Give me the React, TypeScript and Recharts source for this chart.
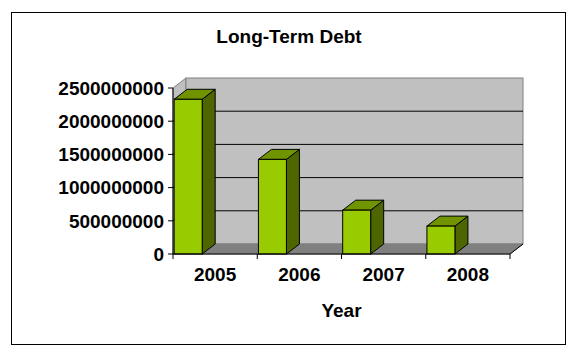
import { BarChart, Bar, XAxis, YAxis, ReferenceArea } from "recharts"

const YEARS = ["2005", "2006", "2007", "2008"]
const LONG_TERM_DEBT = [2330000000, 1425000000, 660000000, 420000000]
const Y_TICKS = [0, 500000000, 1000000000, 1500000000, 2000000000, 2500000000]

const data = YEARS.map((year, i) => ({ year, debt: LONG_TERM_DEBT[i] }))

const CHART_W = 572
const CHART_H = 352
const MARGIN = { top: 88, right: 62, left: 0, bottom: 28 }
const Y_AXIS_W = 173
const PLOT_W = CHART_W - MARGIN.right - MARGIN.left - Y_AXIS_W
const BAR_W = 28
// Excel draws the column at the left of its slot, not centred
const BAR_SHIFT = (PLOT_W / YEARS.length - BAR_W) / 2 - 1.3
const DEPTH_X = 13
const DEPTH_Y = 10
const Y_MAX = Y_TICKS[Y_TICKS.length - 1]

const COLORS = {
  front: "#99cc00",
  top: "#6f9400",
  side: "#4d6600",
  wall: "#c0c0c0",
  floor: "#808080",
  edge: "#808080",
}

const FONT = "'Liberation Sans', Arial, sans-serif"

function Walls(props: any) {
  const { x, y, width, height } = props
  const bottom = y + height
  const right = x + width
  const gridYs = Y_TICKS.slice(1, -1).map((v) => y + height * (1 - v / Y_MAX))
  const bounds = YEARS.map((_, i) => x + (i * width) / YEARS.length).concat(right)
  return (
    <g>
      <polygon
        points={`${x},${bottom} ${x},${y} ${x + DEPTH_X},${y - DEPTH_Y} ${x + DEPTH_X},${bottom - DEPTH_Y}`}
        fill={COLORS.wall}
        stroke={COLORS.edge}
      />
      <rect x={x + DEPTH_X} y={y - DEPTH_Y} width={width} height={height} fill={COLORS.wall} stroke={COLORS.edge} />
      {gridYs.map((gy) => (
        <g key={gy}>
          <line x1={x} y1={gy} x2={x + DEPTH_X} y2={gy - DEPTH_Y} stroke="#000" />
          <line x1={x + DEPTH_X} y1={gy - DEPTH_Y} x2={right + DEPTH_X} y2={gy - DEPTH_Y} stroke="#000" />
        </g>
      ))}
      <polygon
        points={`${x},${bottom} ${right},${bottom} ${right + DEPTH_X},${bottom - DEPTH_Y} ${x + DEPTH_X},${bottom - DEPTH_Y}`}
        fill={COLORS.floor}
        stroke={COLORS.floor}
      />
      <line x1={right} y1={bottom} x2={right + DEPTH_X} y2={bottom - DEPTH_Y} stroke="#000" />
      {bounds.map((bx) => (
        <line key={bx} x1={bx} y1={bottom} x2={bx} y2={bottom + 5} stroke="#000" />
      ))}
    </g>
  )
}

function Column3D(props: any) {
  const { x, y, width, height } = props
  if (!height) return null
  const fx = x - BAR_SHIFT
  const bottom = y + height
  return (
    <g stroke="#000" strokeWidth={1}>
      <polygon
        points={`${fx + width},${y} ${fx + width + DEPTH_X},${y - DEPTH_Y} ${fx + width + DEPTH_X},${bottom - DEPTH_Y} ${fx + width},${bottom}`}
        fill={COLORS.side}
      />
      <polygon
        points={`${fx},${y} ${fx + DEPTH_X},${y - DEPTH_Y} ${fx + width + DEPTH_X},${y - DEPTH_Y} ${fx + width},${y}`}
        fill={COLORS.top}
      />
      <rect x={fx} y={y} width={width} height={height} fill={COLORS.front} />
    </g>
  )
}

export default function App() {
  return (
    <div style={{ position: "absolute", left: 0, top: 0, width: CHART_W, height: CHART_H, fontFamily: FONT }}>
      <div
        style={{
          position: "absolute",
          left: 11,
          top: 12,
          width: 555,
          height: 333,
          border: "1.5px solid #000",
          boxSizing: "border-box",
        }}
      />
      <div
        style={{
          position: "absolute",
          left: 189,
          top: 27,
          width: 200,
          textAlign: "center",
          fontSize: 19,
          lineHeight: "19px",
          fontWeight: "bold",
        }}
      >
        Long-Term Debt
      </div>
      <div style={{ position: "absolute", left: 0, top: 0 }}>
        <BarChart width={CHART_W} height={CHART_H} data={data} margin={MARGIN}>
          <ReferenceArea y1={0} y2={Y_MAX} shape={(p: any) => <Walls {...p} />} />
          <XAxis
            dataKey="year"
            axisLine={{ stroke: "#000" }}
            tickLine={false}
            tickSize={0}
            tickMargin={14}
            height={70}
            tick={{ fontSize: 19, fontWeight: "bold", fill: "#000", fontFamily: FONT }}
            label={{
              value: "Year",
              position: "insideBottom",
              offset: 7,
              style: { fontSize: 19, fontWeight: "bold", fill: "#000", fontFamily: FONT },
            }}
          />
          <YAxis
            domain={[0, Y_MAX]}
            ticks={Y_TICKS}
            width={Y_AXIS_W}
            axisLine={{ stroke: "#000" }}
            tickLine={{ stroke: "#000" }}
            tickSize={5}
            tickMargin={4}
            tickFormatter={(v: number) => String(v)}
            tick={{ fontSize: 19, fontWeight: "bold", fill: "#000", fontFamily: FONT }}
          />
          <Bar dataKey="debt" barSize={BAR_W} shape={(p: any) => <Column3D {...p} />} isAnimationActive={false} />
        </BarChart>
      </div>
    </div>
  )
}
